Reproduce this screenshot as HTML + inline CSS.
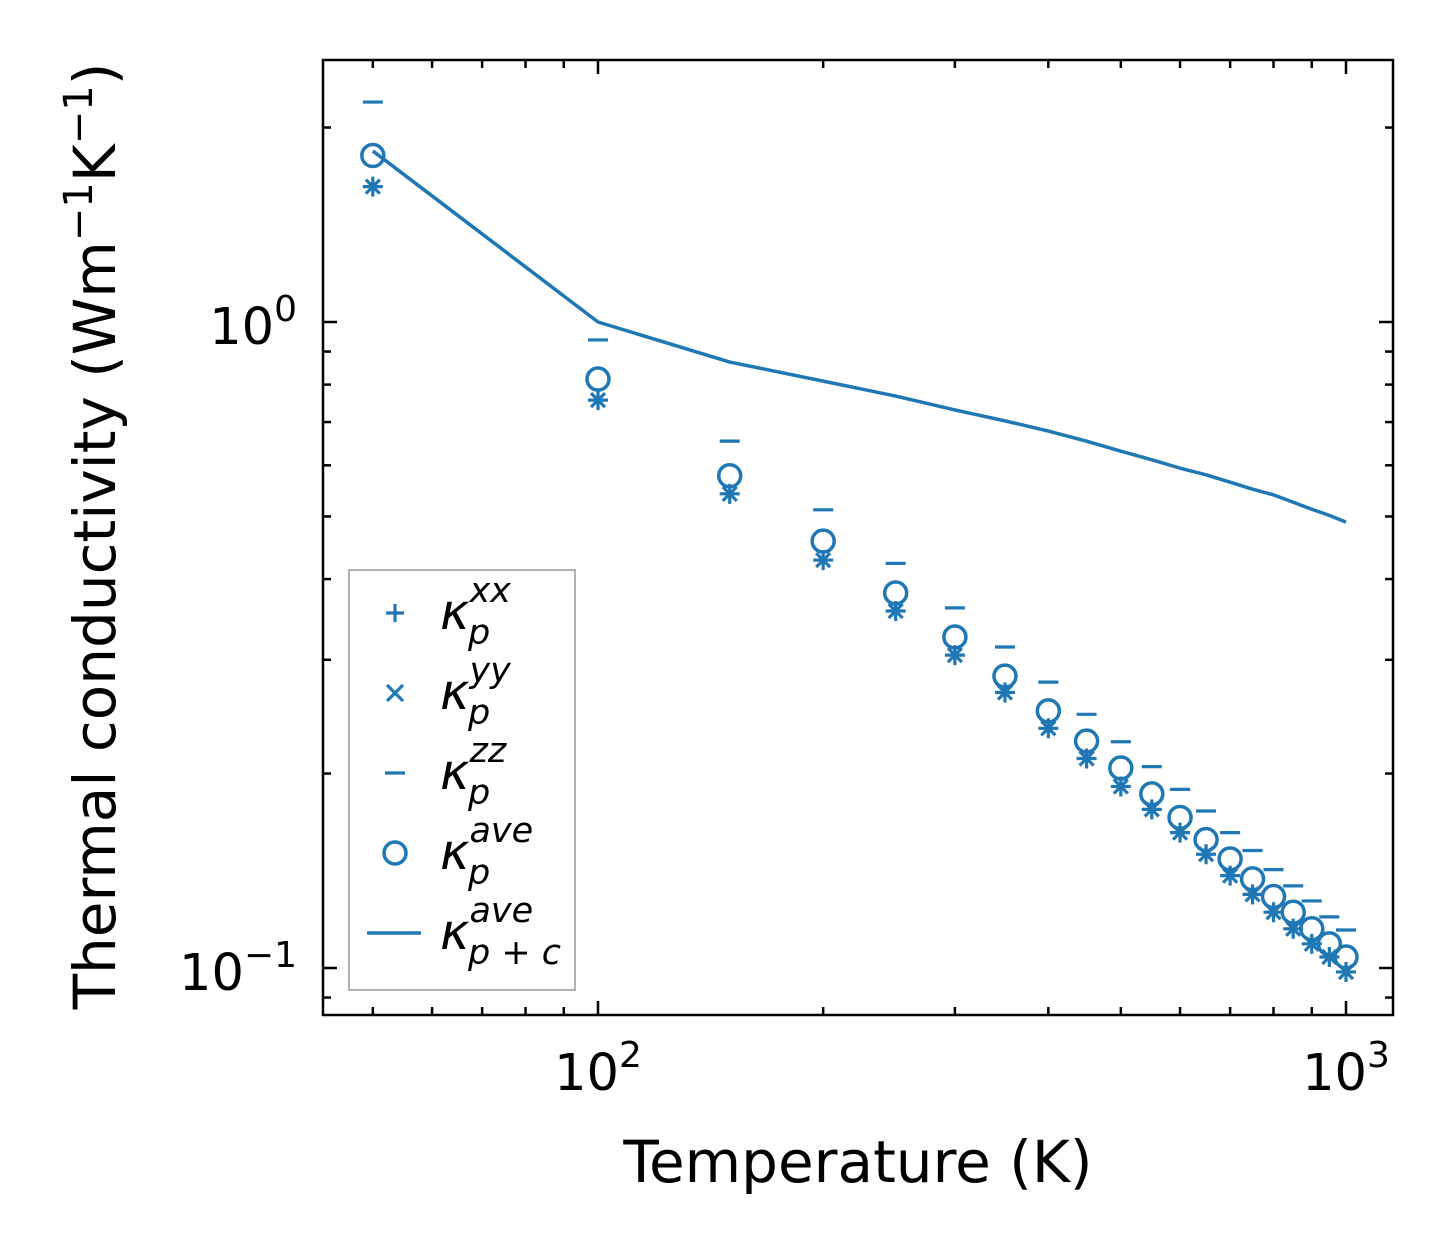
<!DOCTYPE html>
<html><head><meta charset="utf-8"><style>
html,body{margin:0;padding:0;background:#fff;}
svg{display:block;font-family:"DejaVu Sans","Liberation Sans",sans-serif;}
</style></head><body>
<svg id="chart" width="1454" height="1254" viewBox="0 0 1454 1254" xmlns="http://www.w3.org/2000/svg"></svg>
<script>
const temps=[50,100,150,200,250,300,350,400,450,500,550,600,650,700,750,800,850,900,950,1000];
const kxx=[1.62,0.757,0.542,0.428,0.357,0.305,0.267,0.235,0.211,0.191,0.176,0.162,0.150,0.139,0.130,0.122,0.115,0.109,0.104,0.0986];
const kyy=[1.62,0.757,0.542,0.428,0.357,0.305,0.267,0.235,0.211,0.191,0.176,0.162,0.150,0.139,0.130,0.122,0.115,0.109,0.104,0.0986];
const kzz=[2.19,0.938,0.654,0.512,0.423,0.361,0.314,0.277,0.247,0.224,0.205,0.189,0.175,0.162,0.152,0.142,0.134,0.127,0.120,0.1145];
const kave=[1.81,0.816,0.578,0.458,0.3806,0.3254,0.283,0.250,0.2245,0.204,0.186,0.171,0.158,0.1475,0.1374,0.129,0.122,0.115,0.109,0.104];
const kpc=[1.84,1.0,0.867,0.810,0.768,0.731,0.703,0.678,0.654,0.631,0.612,0.594,0.580,0.565,0.551,0.540,0.526,0.513,0.502,0.490];
const xMajor=[100,1000];
const xMinor=[50,60,70,80,90,200,300,400,500,600,700,800,900];
const yMajor=[0.1,1];
const yMinor=[0.09,0.2,0.3,0.4,0.5,0.6,0.7,0.8,0.9,2];

const L=323,R=1393,T=60,B=1015,C='#1f77b4';
const X=v=>598+748*Math.log10(v/100);
const Y=v=>322-646*Math.log10(v);
const svg=document.getElementById('chart');
const NS='http://www.w3.org/2000/svg';
function mk(tag,attrs,parent){const e=document.createElementNS(NS,tag);for(const k in attrs)e.setAttribute(k,attrs[k]);(parent||svg).appendChild(e);return e;}

const g=mk('g',{});


function tick(x1,y1,x2,y2){const t=mk('line',{x1,y1,x2,y2,stroke:'#000','stroke-width':2.5},g);}
xMajor.forEach(v=>{const x=X(v);tick(x,B,x,B-14);tick(x,T,x,T+14);});
xMinor.forEach(v=>{const x=X(v);tick(x,B,x,B-8);tick(x,T,x,T+8);});
yMajor.forEach(v=>{const y=Y(v);tick(L,y,L+14,y);tick(R,y,R-14,y);});
yMinor.forEach(v=>{const y=Y(v);tick(L,y,L+8,y);tick(R,y,R-8,y);});

function sup(x,y,base,exp,anchor,name){const t=mk('text',{x,y,'font-size':51,'text-anchor':anchor,fill:'#000'});
 const a=mk('tspan',{},t);a.textContent=base;const b=mk('tspan',{dy:-23,'font-size':36},t);b.textContent=exp;}
sup(X(100),1090,'10','2','middle','x-tick-label-100');
sup(X(1000),1090,'10','3','middle','x-tick-label-1000');
sup(297,344,'10','0','end','y-tick-label-1');
sup(297,990,'10','\u22121','end','y-tick-label-0.1');

const xt=mk('text',{x:858,y:1182,'font-size':58,'text-anchor':'middle'});xt.textContent='Temperature (K)';

const yt=mk('text',{x:0,y:0,'font-size':58,'text-anchor':'middle',transform:'translate(115,536) rotate(-90)'});

['Thermal conductivity (Wm','\u22121','K','\u22121',')'].forEach((s,i)=>{const sp=mk('tspan',(i==1||i==3)?{dy:-23,'font-size':40}:(i==2||i==4)?{dy:23}:{},yt);sp.textContent=s;});

const pts=temps.map((t,i)=>X(t)+','+Y(kpc[i])).join(' ');
const ln=mk('polyline',{points:pts,fill:'none',stroke:C,'stroke-width':3.5,'stroke-linejoin':'round'});


function plus(x,y,s,p){mk('path',{d:`M${x-s},${y}H${x+s}M${x},${y-s}V${y+s}`,stroke:C,'stroke-width':3.2,fill:'none'},p);}
function cross(x,y,s,p){mk('path',{d:`M${x-s},${y-s}L${x+s},${y+s}M${x-s},${y+s}L${x+s},${y-s}`,stroke:C,'stroke-width':3.2,fill:'none'},p);}
function dash(x,y,s,p){mk('path',{d:`M${x-s},${y}H${x+s}`,stroke:C,'stroke-width':3.2,fill:'none'},p);}
function circ(x,y,r,p){mk('circle',{cx:x,cy:y,r,stroke:C,'stroke-width':3.5,fill:'none'},p);}
temps.forEach((t,i)=>{const x=X(t);
 const a=mk('g',{});plus(x,Y(kxx[i]),10,a);
 const b=mk('g',{});cross(x,Y(kyy[i]),7,b);
 const c=mk('g',{});dash(x,Y(kzz[i]),10,c);
 const d=mk('g',{});circ(x,Y(kave[i]),11,d);
});

const fr=mk('rect',{x:L,y:T,width:R-L,height:B-T,fill:'none',stroke:'#000','stroke-width':2.5});


const lg=mk('g',{});
mk('rect',{x:349,y:570,width:226,height:420,fill:'#fff',stroke:'#999','stroke-width':1.5},lg);
const ents=[['xx','p','plus'],['yy','p','cross'],['zz','p','dash'],['ave','p','circ'],['ave','p + c','line']];
ents.forEach((e,i)=>{const y=613+i*80;const eg=mk('g',{},lg);
 
 const sx=395;
 if(e[2]=='plus')plus(sx,y,9,eg);else if(e[2]=='cross')cross(sx,y,8,eg);else if(e[2]=='dash')dash(sx,y,10,eg);else if(e[2]=='circ')circ(sx,y,11,eg);else mk('path',{d:`M367,${y}H421`,stroke:C,'stroke-width':3.5},eg);
 const t=mk('text',{x:440,y:y+16,'font-size':50,'font-style':'italic'},eg);
 const k=mk('tspan',{},t);k.textContent='\u03ba';
 const s1=mk('tspan',{dy:-27,'font-size':35},t);s1.textContent=e[0];
 const s2=mk('tspan',{x:468,dy:42,'font-size':35},t);s2.textContent=e[1];
});
</script>
</body></html>
